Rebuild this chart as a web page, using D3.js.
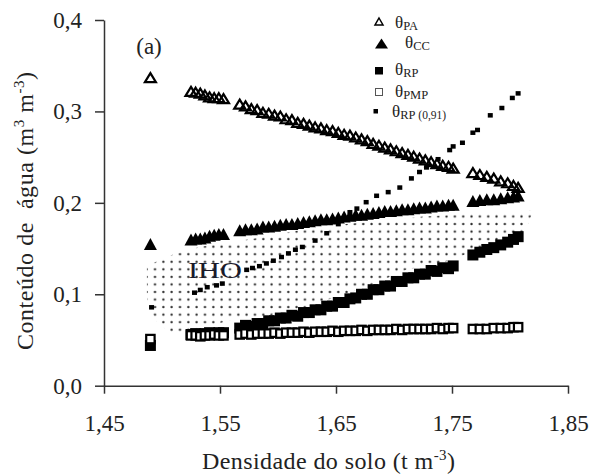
<!DOCTYPE html>
<html><head><meta charset="utf-8">
<script src="https://cdn.jsdelivr.net/npm/d3@7"></script>
<style>
body{margin:0;background:#fff;}
svg{display:block;font-family:"Liberation Serif","Times New Roman",serif;}
</style></head><body>
<svg id="chart" width="593" height="476"></svg>
<script>
// ---------- data ----------
const xTicks = [1.45, 1.55, 1.65, 1.75, 1.85];
const yTicks = [0, 0.1, 0.2, 0.3, 0.4];

const density = [1.490,
 1.525,1.529,1.533,1.537,1.541,1.545,1.549,1.553,
 1.567,1.572,1.577,1.582,1.587,1.592,1.597,1.602,1.607,1.612,1.617,1.622,1.627,1.632,1.637,1.642,1.647,1.652,1.657,1.662,1.667,1.672,1.677,1.682,1.687,1.692,1.697,1.702,1.707,1.712,1.717,1.722,1.727,1.732,1.737,1.742,1.747,1.751,
 1.768,1.774,1.780,1.786,1.792,1.798,1.803,1.807];

const thetaPA = [0.337,
 0.322,0.321,0.320,0.318,0.316,0.315,0.315,0.314,
 0.308,0.306,0.303,0.302,0.299,0.298,0.296,0.295,0.292,0.291,0.288,0.287,0.285,0.283,0.282,0.280,0.279,0.277,0.275,0.274,0.272,0.270,0.268,0.265,0.263,0.261,0.259,0.257,0.255,0.253,0.251,0.249,0.247,0.245,0.243,0.241,0.240,0.238,
 0.233,0.231,0.229,0.227,0.224,0.222,0.219,0.217];

const thetaCC = [0.155,
 0.160,0.161,0.161,0.162,0.164,0.165,0.166,0.166,
 0.170,0.171,0.171,0.172,0.174,0.174,0.175,0.176,0.177,0.177,0.178,0.179,0.180,0.181,0.182,0.182,0.183,0.184,0.185,0.186,0.187,0.187,0.188,0.189,0.190,0.191,0.191,0.192,0.193,0.193,0.194,0.195,0.195,0.196,0.197,0.197,0.198,0.198,
 0.202,0.203,0.204,0.204,0.205,0.206,0.207,0.208];

const thetaRP = [0.044,
 0.056,0.057,0.056,0.057,0.058,0.057,0.058,0.058,
 0.063,0.066,0.065,0.068,0.068,0.071,0.071,0.074,0.074,0.077,0.076,0.080,0.080,0.083,0.083,0.087,0.087,0.091,0.091,0.095,0.096,0.100,0.100,0.105,0.105,0.109,0.109,0.114,0.114,0.118,0.118,0.122,0.122,0.126,0.125,0.129,0.128,0.131,
 0.143,0.146,0.149,0.151,0.154,0.157,0.160,0.163];

const thetaPMP = [0.051,
 0.055,0.055,0.054,0.055,0.055,0.056,0.055,0.055,
 0.056,0.057,0.056,0.057,0.057,0.057,0.058,0.057,0.058,0.058,0.058,0.059,0.058,0.059,0.059,0.059,0.060,0.059,0.060,0.060,0.060,0.061,0.060,0.061,0.061,0.061,0.061,0.062,0.061,0.062,0.062,0.062,0.062,0.062,0.063,0.062,0.063,0.063,
 0.062,0.062,0.062,0.063,0.063,0.063,0.064,0.064];

const densityRP091 = [1.491,1.528,1.533,1.539,1.547,1.552,1.573,1.578,1.584,1.590,1.596,1.603,1.609,1.615,1.621,1.632,1.642,1.652,1.662,1.668,1.676,1.685,1.695,1.705,1.715,1.722,1.728,1.738,1.748,1.751,1.759,1.768,1.772,1.783,1.793,1.802,1.807];
const thetaRP091   = [0.086,0.102,0.105,0.108,0.110,0.112,0.127,0.129,0.131,0.134,0.137,0.141,0.145,0.149,0.152,0.159,0.167,0.177,0.190,0.194,0.201,0.208,0.212,0.217,0.227,0.234,0.239,0.248,0.258,0.262,0.266,0.277,0.280,0.296,0.304,0.315,0.320];

// IHO region outline (upper edge left->right, lower edge right->left)
const ihoUpperDensity = [1.487,1.501,1.516,1.533,1.559,1.585,1.610,1.639,1.668,1.697,1.725,1.754,1.783,1.820,1.813];
const ihoUpperTheta   = [0.130,0.140,0.146,0.152,0.157,0.162,0.168,0.174,0.178,0.181,0.185,0.187,0.189,0.192,0.168];
const ihoLowerDensity = [1.809,1.783,1.772,1.757,1.740,1.711,1.682,1.653,1.623,1.593,1.561,1.533,1.518,1.507,1.496,1.490,1.487];
const ihoLowerTheta   = [0.168,0.157,0.150,0.141,0.134,0.127,0.111,0.098,0.086,0.077,0.072,0.063,0.058,0.058,0.069,0.083,0.097];

// ---------- drawing ----------
const svg = d3.select("#chart");
const x = d3.scaleLinear().domain([1.45, 1.85]).range([104, 568]);
const y = d3.scaleLinear().domain([0, 0.4]).range([385.7, 20]);
const comma = (f) => (v) => d3.format(f)(v).replace(".", ",");

const defs = svg.append("defs");
const pat = defs.append("pattern").attr("id", "dots")
  .attr("patternUnits", "userSpaceOnUse")
  .attr("width", 8.33).attr("height", 7.55)
  .attr("x", 142.5).attr("y", 258);
pat.append("circle").attr("cx", 4.17).attr("cy", 3.78).attr("r", 1.15).attr("fill", "#2a2a2a");

const ihoPts = ihoUpperDensity.map((d, i) => [d, ihoUpperTheta[i]])
  .concat(ihoLowerDensity.map((d, i) => [d, ihoLowerTheta[i]]));
svg.append("path")
  .attr("d", d3.line().x(p => x(p[0])).y(p => y(p[1]))(ihoPts) + "Z")
  .attr("fill", "url(#dots)");

svg.append("text").attr("x", 188).attr("y", 278)
  .attr("font-size", 24).attr("textLength", 54).attr("lengthAdjust", "spacingAndGlyphs")
  .attr("fill", "#1a1a2a").text("IHO");

// axes
const gx = svg.append("g").attr("transform", `translate(0,${y(0)})`)
  .call(d3.axisBottom(x).tickValues(xTicks).tickFormat(comma(".2f")).tickSize(8).tickSizeOuter(0).tickPadding(21));
const gy = svg.append("g").attr("transform", `translate(${x(1.45)},0)`)
  .call(d3.axisLeft(y).tickValues(yTicks).tickFormat(comma(".1f")).tickSize(9).tickSizeOuter(0).tickPadding(13));
[gx, gy].forEach(g => {
  g.attr("font-family", null).attr("font-size", null);
  g.selectAll("path,line").attr("stroke", "#333").attr("stroke-width", 1.5);
  g.selectAll("text").attr("font-size", 23).attr("fill", "#222");
});

// marker shapes
const tri = (w, h) => `M0,${-h / 2}L${w / 2},${h / 2}L${-w / 2},${h / 2}Z`;
const pts = (arr) => density.map((d, i) => [d, arr[i]]);

// RP filled squares
svg.append("g").selectAll("rect").data(pts(thetaRP)).join("rect")
  .attr("x", p => x(p[0]) - 5.5).attr("y", p => y(p[1]) - 5.5)
  .attr("width", 11).attr("height", 11).attr("fill", "#000");
// PMP open squares
svg.append("g").selectAll("rect").data(pts(thetaPMP)).join("rect")
  .attr("x", p => x(p[0]) - 4.2).attr("y", p => y(p[1]) - 4.2)
  .attr("width", 8.4).attr("height", 8.4).attr("fill", "#fff").attr("stroke", "#000").attr("stroke-width", 2.2);
// CC filled triangles
svg.append("g").selectAll("path").data(pts(thetaCC)).join("path")
  .attr("transform", p => `translate(${x(p[0])},${y(p[1])})`)
  .attr("d", tri(13, 12)).attr("fill", "#000");
// PA open triangles
svg.append("g").selectAll("path").data(pts(thetaPA)).join("path")
  .attr("transform", p => `translate(${x(p[0])},${y(p[1])})`)
  .attr("d", tri(11, 9)).attr("fill", "none").attr("stroke", "#000").attr("stroke-width", 2.2).attr("stroke-linejoin", "miter");
// RP(0,91) small dots
svg.append("g").selectAll("rect").data(densityRP091.map((d, i) => [d, thetaRP091[i]])).join("rect")
  .attr("x", p => x(p[0]) - 2.5).attr("y", p => y(p[1]) - 2)
  .attr("width", 5).attr("height", 4.5).attr("fill", "#000");

// panel label
svg.append("text").attr("x", 149).attr("y", 54).attr("text-anchor", "middle")
  .attr("font-size", 23).attr("fill", "#222").text("(a)");

// legend
const leg = svg.append("g");
leg.append("path").attr("transform", "translate(379,21.5)").attr("d", tri(8, 7)).attr("fill", "none").attr("stroke", "#000").attr("stroke-width", 1.5);
leg.append("path").attr("transform", "translate(381.5,43.5)").attr("d", tri(13, 10)).attr("fill", "#000");
leg.append("rect").attr("x", 375).attr("y", 67).attr("width", 8).attr("height", 7.5).attr("fill", "#000");
leg.append("rect").attr("x", 375.5).attr("y", 88.5).attr("width", 7).attr("height", 7).attr("fill", "#fff").attr("stroke", "#555").attr("stroke-width", 1);
leg.append("rect").attr("x", 373.5).attr("y", 109).attr("width", 4.5).attr("height", 4.5).attr("fill", "#000");
const legItems = [
  {x: 395, y: 27.5, sub: "PA"},
  {x: 405, y: 48, sub: "CC"},
  {x: 395, y: 75, sub: "RP"},
  {x: 395, y: 97, sub: "PMP"},
  {x: 392, y: 117, sub: "RP", sub2: " (0,91)"}
];
legItems.forEach(it => {
  const t = leg.append("text").attr("x", it.x).attr("y", it.y).attr("font-size", 17).attr("fill", "#222").text("θ");
  t.append("tspan").attr("font-size", 12.5).attr("dy", 2).text(it.sub);
  if (it.sub2) t.append("tspan").attr("font-size", 11.5).text(it.sub2);
});

// axis titles
const xt = svg.append("text").attr("x", 328.5).attr("y", 469).attr("text-anchor", "middle")
  .attr("font-size", 24).attr("fill", "#222").attr("textLength", 253);
xt.append("tspan").text("Densidade do solo (t m");
xt.append("tspan").attr("font-size", 15).attr("dy", -9).text("-3");
xt.append("tspan").attr("dy", 9).text(")");

const yt = svg.append("text").attr("transform", "translate(33,211) rotate(-90)").attr("text-anchor", "middle")
  .attr("font-size", 24).attr("fill", "#222").attr("textLength", 278);
yt.append("tspan").text("Conteúdo de \u00a0água (m");
yt.append("tspan").attr("font-size", 15).attr("dy", -9).text("3");
yt.append("tspan").attr("dy", 9).text(" m");
yt.append("tspan").attr("font-size", 15).attr("dy", -9).text("-3");
yt.append("tspan").attr("dy", 9).text(")");
</script>
</body></html>
